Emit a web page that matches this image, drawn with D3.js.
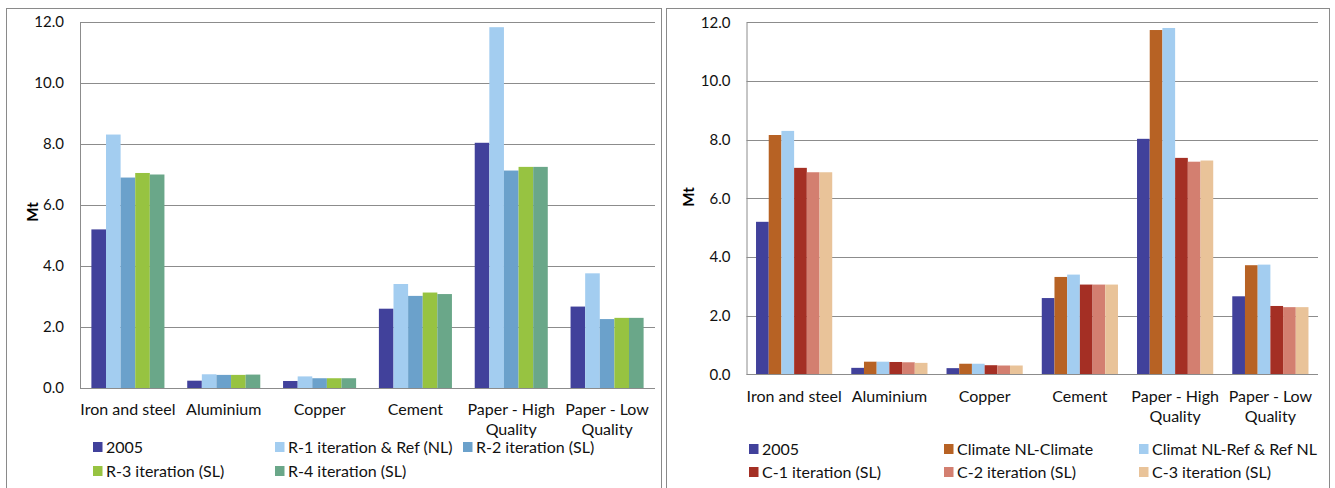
<!DOCTYPE html>
<html>
<head>
<meta charset="utf-8">
<script src="https://cdn.jsdelivr.net/npm/d3@7"></script>
<style>
  html, body { margin: 0; padding: 0; background: #fff; }
  svg { display: block; font-family: Lato, "Open Sans", sans-serif; }
</style>
</head>
<body>
<svg id="chart" width="1335" height="488"></svg>
<script>
// ---- data ----
const categories = ["Iron and steel", "Aluminium", "Copper", "Cement", "Paper - High Quality", "Paper - Low Quality"];
const categoryLines = [["Iron and steel"], ["Aluminium"], ["Copper"], ["Cement"], ["Paper - High", "Quality"], ["Paper - Low", "Quality"]];
const yTicks = [0, 2, 4, 6, 8, 10, 12];

// left chart series
const leftNames = ["2005", "R-1 iteration & Ref (NL)", "R-2 iteration (SL)", "R-3 iteration (SL)", "R-4 iteration (SL)"];
const left2005 = [5.2, 0.24, 0.23, 2.6, 8.04, 2.67];
const leftR1 = [8.31, 0.45, 0.38, 3.41, 11.83, 3.76];
const leftR2 = [6.9, 0.43, 0.32, 3.02, 7.13, 2.26];
const leftR3 = [7.05, 0.43, 0.32, 3.13, 7.25, 2.3];
const leftR4 = [7.0, 0.44, 0.32, 3.08, 7.25, 2.3];
const leftColors = ["#41419b", "#a3cdf0", "#6ba1cb", "#97c341", "#6aa789"];

// right chart series
const rightNames = ["2005", "Climate NL-Climate", "Climat NL-Ref & Ref NL", "C-1 iteration (SL)", "C-2 iteration (SL)", "C-3 iteration (SL)"];
const right2005 = [5.2, 0.22, 0.21, 2.6, 8.03, 2.66];
const rightClimate = [8.16, 0.43, 0.36, 3.32, 11.74, 3.72];
const rightClimatRef = [8.3, 0.43, 0.36, 3.4, 11.81, 3.74];
const rightC1 = [7.04, 0.42, 0.31, 3.06, 7.38, 2.33];
const rightC2 = [6.89, 0.41, 0.3, 3.06, 7.25, 2.29];
const rightC3 = [6.89, 0.39, 0.3, 3.06, 7.29, 2.29];
const rightColors = ["#41419b", "#b76224", "#a3cdf0", "#a42f24", "#d37f70", "#e9c399"];

const svg = d3.select("#chart");

// panel borders
svg.append("rect").attr("x", 6.5).attr("y", 8.5).attr("width", 655).attr("height", 490)
  .attr("fill", "none").attr("stroke", "#8a8a8a");
svg.append("rect").attr("x", 666.5).attr("y", 8.5).attr("width", 663).attr("height", 490)
  .attr("fill", "none").attr("stroke", "#8a8a8a");

function drawChart(cfg) {
  const g = svg.append("g");
  const y = d3.scaleLinear().domain([0, 12]).range([cfg.y0, cfg.y12]);
  const x0 = d3.scaleBand().domain(categories).range([cfg.xl, cfg.xr]).padding(0);
  const x1 = d3.scaleBand().domain(cfg.names).range([0, x0.bandwidth()])
    .paddingInner(0).paddingOuter(cfg.outer);

  // gridlines
  g.append("g").selectAll("line").data(yTicks.filter(t => t > 0)).join("line")
    .attr("x1", cfg.xl).attr("x2", cfg.xr)
    .attr("y1", d => Math.round(y(d)) + 0.5).attr("y2", d => Math.round(y(d)) + 0.5)
    .attr("stroke", "#8c8c8c").attr("stroke-width", 1);

  // y axis
  const yAxis = d3.axisLeft(y).tickValues(yTicks).tickFormat(d3.format(".1f")).tickSize(0).tickPadding(16);
  const ya = g.append("g").attr("transform", `translate(${cfg.xl},0)`).call(yAxis);
  ya.select(".domain").attr("stroke", "#8c8c8c");
  ya.selectAll("text").attr("font-size", 15).attr("fill", "#111").attr("font-family", "Lato, sans-serif");

  // bars
  const groups = g.append("g").selectAll("g").data(categories).join("g")
    .attr("transform", d => `translate(${x0(d)},0)`);
  groups.selectAll("rect")
    .data((c, ci) => cfg.names.map((n, si) => ({ name: n, value: cfg.series[si][ci], color: cfg.colors[si] })))
    .join("rect")
    .attr("x", d => x1(d.name))
    .attr("width", x1.bandwidth())
    .attr("y", d => y(d.value))
    .attr("height", d => y(0) - y(d.value))
    .attr("fill", d => d.color);

  // x axis baseline
  g.append("line").attr("x1", cfg.xl).attr("x2", cfg.xr)
    .attr("y1", Math.round(y(0)) + 0.5).attr("y2", Math.round(y(0)) + 0.5)
    .attr("stroke", "#8c8c8c");

  // category labels
  categories.forEach((c, i) => {
    const t = g.append("text").attr("x", x0(c) + x0.bandwidth() / 2).attr("y", cfg.catY)
      .attr("text-anchor", "middle").attr("font-size", 16).attr("fill", "#111");
    categoryLines[i].forEach((line, li) => {
      t.append("tspan").attr("x", x0(c) + x0.bandwidth() / 2).attr("dy", li === 0 ? 0 : 20).text(line);
    });
  });

  // axis title
  g.append("text").attr("transform", `translate(${cfg.mtX},${cfg.mtY}) rotate(-90)`)
    .attr("text-anchor", "middle").attr("font-weight", "bold").attr("font-size", 15)
    .attr("fill", "#000").text("Mt");

  // legend
  cfg.names.forEach((n, i) => {
    const pos = cfg.legendPos[i];
    g.append("rect").attr("x", pos[0]).attr("y", pos[1] - 5).attr("width", 9.5).attr("height", 10)
      .attr("fill", cfg.colors[i]);
    g.append("text").attr("x", pos[0] + 13).attr("y", pos[1] + 5.5).attr("font-size", 16)
      .attr("fill", "#111").text(n);
  });
}

drawChart({
  names: leftNames,
  series: [left2005, leftR1, leftR2, leftR3, leftR4],
  colors: leftColors,
  xl: 80, xr: 655, y0: 388, y12: 22, outer: 0.78,
  catY: 415, mtX: 38, mtY: 212,
  legendPos: [[93, 447], [275, 447], [463, 447], [93, 471], [275, 471]]
});

drawChart({
  names: rightNames,
  series: [right2005, rightClimate, rightClimatRef, rightC1, rightC2, rightC3],
  colors: rightColors,
  xl: 746.5, xr: 1318, y0: 374.3, y12: 22.4, outer: 0.75,
  catY: 402, mtX: 694, mtY: 197,
  legendPos: [[749, 449], [944, 449], [1139, 449], [749, 472], [944, 472], [1139, 472]]
});
</script>
</body>
</html>
